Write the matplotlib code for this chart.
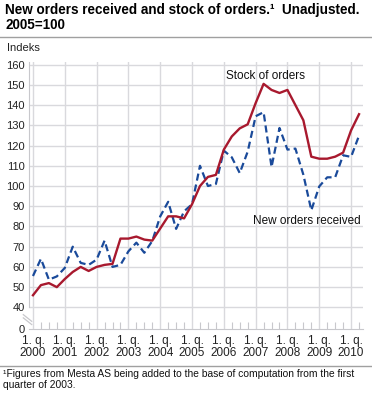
import matplotlib
matplotlib.use("Agg")
import matplotlib.pyplot as plt
from matplotlib.ticker import FixedLocator, MultipleLocator
import matplotlib.transforms as mtransforms

plt.rcParams['font.family'] = ['Liberation Sans', 'DejaVu Sans']

# Quarterly data, 2000 Q1 .. 2010 Q2
years = list(range(2000, 2011))
stock_of_orders = [46, 51, 52, 50,
                   54, 57.5, 60, 58,
                   60, 61, 61.5, 74,
                   74, 75, 73.5, 73,
                   79, 85, 85, 84,
                   91, 100, 104.5, 105.5,
                   118, 124.5, 128.5, 130.5,
                   141, 150.5, 147.5, 146,
                   147.5, 140, 132.5, 114.5,
                   113.5, 113.5, 114.5, 116.5,
                   127.5, 135.5]
new_orders = [55.5, 64, 53.7, 55.3,
              59.5, 70, 62, 61,
              63.6, 73, 60, 61,
              67.7, 72, 67, 72.8,
              85, 92.2, 78.8, 87.5,
              91, 110, 100, 101,
              117.5, 114.2, 106.4, 117,
              134.5, 136.5, 109.4, 128.7,
              118, 118.5, 105.6, 88,
              99.8, 104.3, 104.3, 115.2,
              114.4, 124.9]
y_ticks = [40, 50, 60, 70, 80, 90, 100, 110, 120, 130, 140, 150, 160]

W, H = 372, 393
fig = plt.figure(figsize=(W / 100, H / 100), dpi=100)

ZERO = 29.3
YTOP = 161.5
left_px, right_px, bottom_px = 29, 363, 329
scale = 2.0225
top_px = bottom_px - (YTOP - ZERO) * scale
ax = fig.add_axes([left_px / W, 1 - bottom_px / H,
                   (right_px - left_px) / W, (bottom_px - top_px) / H])

x = list(range(len(stock_of_orders)))
red = '#a8192e'
blue = '#1a4a9a'
grid = '#d9d9dd'

ax.plot(x, new_orders, color=blue, lw=1.6, ls=(0, (3.2, 1.8)), zorder=3)
ax.plot(x, stock_of_orders, color=red, lw=1.7, zorder=4)

ax.set_xlim(-0.5, 41.5)
ax.set_ylim(ZERO, YTOP)

# y ticks
ax.yaxis.set_major_locator(FixedLocator(y_ticks + [ZERO]))
ax.set_yticklabels([str(v) for v in y_ticks] + ['0'])
ax.tick_params(axis='y', length=0, pad=3, labelsize=8, colors='#222222')
for v in y_ticks:
    ax.axhline(v, color=grid, lw=1.0, zorder=1)

# x ticks
major = list(range(0, 42, 4))
ax.xaxis.set_major_locator(FixedLocator(major))
ax.set_xticklabels([f"1. q.\n{y}" for y in years], linespacing=1.0)
ax.xaxis.set_minor_locator(MultipleLocator(1))
ax.tick_params(axis='x', which='major', length=0, pad=4, labelsize=8.5, colors='#222222')
ax.tick_params(axis='x', which='minor', direction='in', length=5, width=0.8, color='#c8c8cc')
for m in major:
    ax.axvline(m, color=grid, lw=1.0, zorder=1)

for s in ['top', 'right']:
    ax.spines[s].set_visible(False)
ax.spines['left'].set_color('#c8c8cc')
ax.spines['left'].set_bounds(40, YTOP)
ax.spines['bottom'].set_color('#c8c8cc')

# axis break marks
tr = mtransforms.blended_transform_factory(ax.transAxes, ax.transData)
dx0, dx1 = -5.7 / (right_px - left_px), 2.7 / (right_px - left_px)
for off in (0, 1.6):
    ax.plot([dx0, dx1], [36.4 - off, 33.1 - off], transform=tr, color='#c8c8cc',
            lw=0.9, clip_on=False)

# series labels
ax.text(29.2, 151.5, 'Stock of orders', fontsize=8.5, color='#111111',
        ha='center', va='bottom')
ax.text(41.2, 85.5, 'New orders received', fontsize=8.5, color='#111111',
        ha='right', va='top')

# title and decorations
fig.text(5 / W, 1 - 3 / H, 'New orders received and stock of orders.\u00b9  Unadjusted.\n2005=100',
         fontsize=9.75, fontweight='bold', ha='left', va='top', linespacing=1.05)
fig.add_artist(plt.Line2D([0, 1], [1 - 37 / H, 1 - 37 / H], color='#a0a0a0', lw=1.0))
fig.text(7 / W, 1 - 48 / H, 'Indeks', fontsize=8, ha='left', va='center', color='#222222')
fig.add_artist(plt.Line2D([0, 1], [1 - 366 / H, 1 - 366 / H], color='#a0a0a0', lw=1.0))
fig.text(3 / W, 1 - 369 / H,
         '\u00b9Figures from Mesta AS being added to the base of computation from the first\nquarter of 2003.',
         fontsize=7.4, ha='left', va='top', linespacing=1.15, color='#111111')

fig.savefig('out.png', dpi=100)
